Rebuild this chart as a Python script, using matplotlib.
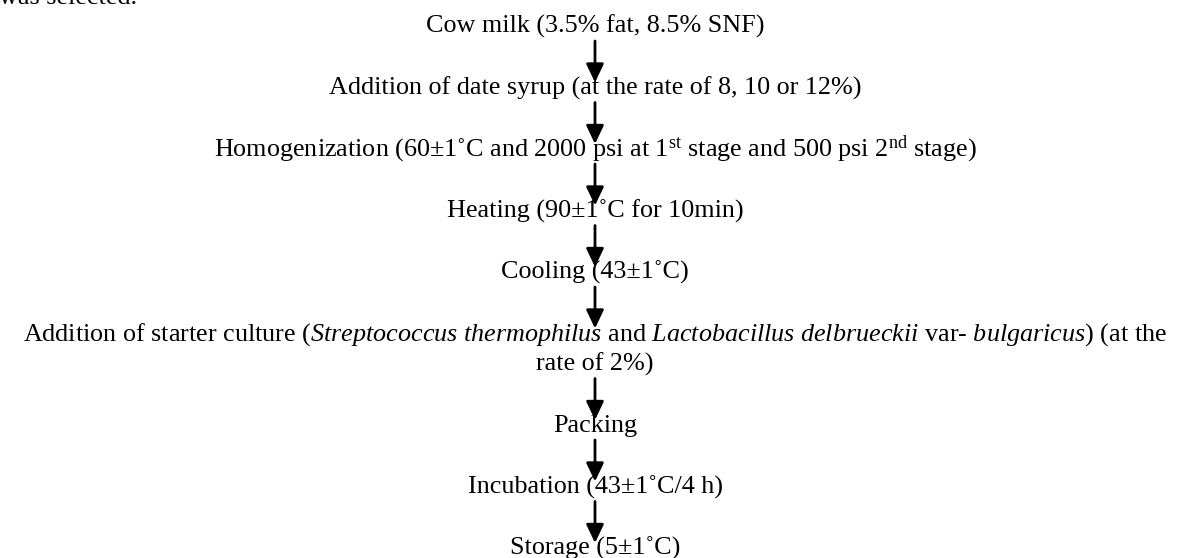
import matplotlib
matplotlib.use("Agg")
import matplotlib.pyplot as plt

plt.rcParams['font.family'] = ['Liberation Serif', 'DejaVu Serif']
plt.rcParams['mathtext.fontset'] = 'custom'
plt.rcParams['mathtext.rm'] = 'Liberation Serif'
plt.rcParams['mathtext.it'] = 'Liberation Serif:italic'

# flow steps, top to bottom (a step may wrap over two lines)
steps = [
    ["Cow milk (3.5% fat, 8.5% SNF)"],
    ["Addition of date syrup (at the rate of 8, 10 or 12%)"],
    [r"Homogenization (60±1˚C and 2000 psi at $\mathrm{1^{st}}$ stage and 500 psi $\mathrm{2^{nd}}$ stage)"],
    ["Heating (90±1˚C for 10min)"],
    ["Cooling (43±1˚C)"],
    [r"Addition of starter culture ($\mathit{Streptococcus\ thermophilus}$ and "
     r"$\mathit{Lactobacillus\ delbrueckii}$ var- $\mathit{bulgaricus)}$ (at the",
     "rate of 2%)"],
    ["Packing"],
    ["Incubation (43±1˚C/4 h)"],
    ["Storage (5±1˚C)"],
]
lead_in = "was selected."

W, H = 1180, 558
fig = plt.figure(figsize=(W / 100, H / 100), dpi=100)
ax = fig.add_axes([0, 0, 1, 1])
ax.set_xlim(0, W)
ax.set_ylim(H, 0)
ax.axis('off')

fs = 18.8
xc = 595          # centre line of the chart
y0 = 33           # baseline of first step
step = 61.5       # baseline distance between steps
line_gap = 30     # extra space per wrapped line

# tail of the previous paragraph, cut off by the top edge
ax.text(-1, 4, lead_in, fontsize=fs, ha='left', va='baseline')

y = y0
prev_bottom = None
for lines in steps:
    if prev_bottom is not None:
        ax.annotate("", xy=(xc, y - 12), xytext=(xc, prev_bottom + 8),
                    arrowprops=dict(arrowstyle='-|>,head_length=0.8,head_width=0.38',
                                    mutation_scale=14, lw=2, color='black',
                                    shrinkA=0, shrinkB=0))
    for k, s in enumerate(lines):
        ax.text(xc, y + k * line_gap, s, fontsize=fs, ha='center', va='baseline')
    prev_bottom = y + (len(lines) - 1) * line_gap
    y = prev_bottom + step

fig.savefig("out.png", dpi=100)
